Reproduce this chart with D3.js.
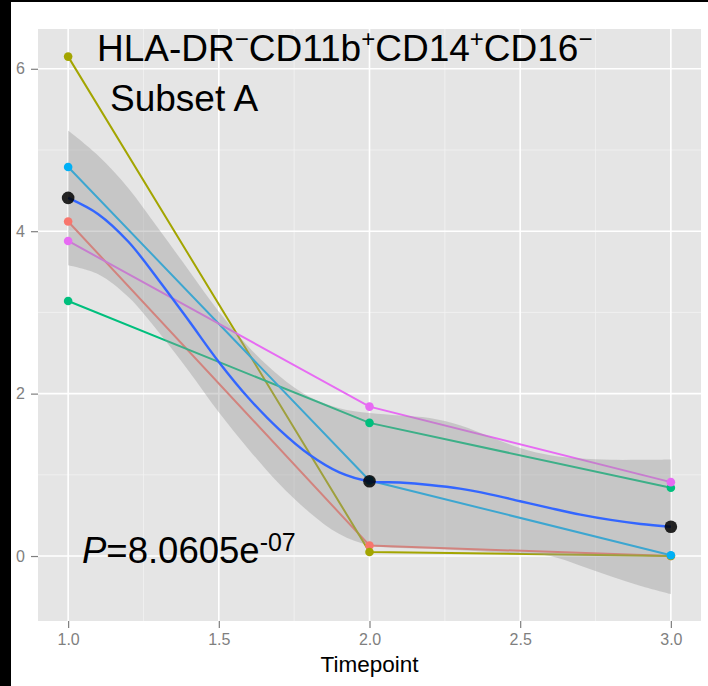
<!DOCTYPE html>
<html>
<head>
<meta charset="utf-8">
<script src="https://cdn.jsdelivr.net/npm/d3@7"></script>
<style>
  body { margin: 0; background: #fff; }
  svg { display: block; }
</style>
</head>
<body>
<div id="chart"></div>
<script>
// timepoints and per-subject values
const timepoints = [1, 2, 3];
const subjectRed = [4.12, 0.13, 0.00];
const subjectOlive = [6.15, 0.05, 0.00];
const subjectGreen = [3.14, 1.64, 0.84];
const subjectCyan = [4.79, 0.93, 0.01];
const subjectMagenta = [3.88, 1.84, 0.91];
const meanValues = [4.41, 0.92, 0.36];

// smoother (fit + confidence band)
const smoothT = [1.0, 1.1, 1.2, 1.3, 1.4, 1.5, 1.6, 1.7, 1.8, 1.9, 2.0, 2.1, 2.2, 2.3, 2.4, 2.5, 2.6, 2.7, 2.8, 2.9, 3.0];
const smoothFit = [4.41, 4.21, 3.87, 3.40, 2.90, 2.39, 1.94, 1.56, 1.25, 1.03, 0.92, 0.905, 0.875, 0.83, 0.76, 0.675, 0.59, 0.51, 0.445, 0.395, 0.36];
const smoothUpper = [5.24, 4.93, 4.53, 4.03, 3.52, 3.01, 2.57, 2.22, 1.96, 1.82, 1.76, 1.73, 1.70, 1.61, 1.47, 1.33, 1.24, 1.20, 1.185, 1.185, 1.19];
const smoothLower = [3.58, 3.47, 3.19, 2.76, 2.28, 1.77, 1.31, 0.89, 0.54, 0.27, 0.13, 0.10, 0.09, 0.07, 0.05, 0.03, 0.00, -0.12, -0.25, -0.37, -0.47];

const xTicks = [1.0, 1.5, 2.0, 2.5, 3.0];
const xMinor = [1.25, 1.75, 2.25, 2.75];
const yTicks = [0, 2, 4, 6];
const yMinor = [1, 3, 5];

const seriesList = [
  { values: subjectRed, color: "#F8766D" },
  { values: subjectOlive, color: "#A3A500" },
  { values: subjectGreen, color: "#00BF7D" },
  { values: subjectCyan, color: "#00B0F6" },
  { values: subjectMagenta, color: "#E76BF3" }
];

const attrs = {
  svgWidth: 708,
  svgHeight: 686,
  panelLeft: 38,
  panelRight: 701,
  panelTop: 29,
  panelBottom: 621,
  font: "'Liberation Sans', Arial, Helvetica, sans-serif",
  panelFill: "#E5E5E5",
  tickColor: "#7F7F7F"
};

const svg = d3.select("#chart").append("svg")
  .attr("width", attrs.svgWidth)
  .attr("height", attrs.svgHeight)
  .attr("font-family", attrs.font);

// frame strips
svg.append("rect").attr("x", 0).attr("y", 0).attr("width", attrs.svgWidth).attr("height", attrs.svgHeight).attr("fill", "#fff");
svg.append("rect").attr("x", 0).attr("y", 0).attr("width", 11).attr("height", attrs.svgHeight).attr("fill", "#000");
svg.append("rect").attr("x", 0).attr("y", 0).attr("width", attrs.svgWidth).attr("height", 2).attr("fill", "#000");

const x = d3.scaleLinear().domain([0.9, 3.1]).range([attrs.panelLeft, attrs.panelRight]);
const y = d3.scaleLinear().domain([-0.8, 6.49]).range([attrs.panelBottom, attrs.panelTop]);

// panel + grid
svg.append("rect")
  .attr("x", attrs.panelLeft).attr("y", attrs.panelTop)
  .attr("width", attrs.panelRight - attrs.panelLeft)
  .attr("height", attrs.panelBottom - attrs.panelTop)
  .attr("fill", attrs.panelFill);

const grid = svg.append("g");
grid.selectAll(".minor-x").data(xMinor).enter().append("line")
  .attr("x1", d => x(d)).attr("x2", d => x(d))
  .attr("y1", attrs.panelTop).attr("y2", attrs.panelBottom)
  .attr("stroke", "#F2F2F2").attr("stroke-width", 0.8);
grid.selectAll(".minor-y").data(yMinor).enter().append("line")
  .attr("y1", d => y(d)).attr("y2", d => y(d))
  .attr("x1", attrs.panelLeft).attr("x2", attrs.panelRight)
  .attr("stroke", "#F2F2F2").attr("stroke-width", 0.8);
grid.selectAll(".major-x").data(xTicks).enter().append("line")
  .attr("x1", d => x(d)).attr("x2", d => x(d))
  .attr("y1", attrs.panelTop).attr("y2", attrs.panelBottom)
  .attr("stroke", "#fff").attr("stroke-width", 1.6);
grid.selectAll(".major-y").data(yTicks).enter().append("line")
  .attr("y1", d => y(d)).attr("y2", d => y(d))
  .attr("x1", attrs.panelLeft).attr("x2", attrs.panelRight)
  .attr("stroke", "#fff").attr("stroke-width", 1.6);

// axes
const xAxis = svg.append("g")
  .attr("transform", `translate(0,${attrs.panelBottom})`)
  .call(d3.axisBottom(x).tickValues(xTicks).tickFormat(d3.format(".1f")).tickSizeInner(7).tickSizeOuter(0).tickPadding(6));
const yAxis = svg.append("g")
  .attr("transform", `translate(${attrs.panelLeft},0)`)
  .call(d3.axisLeft(y).tickValues(yTicks).tickFormat(d3.format("d")).tickSizeInner(7).tickSizeOuter(0).tickPadding(6));
[xAxis, yAxis].forEach(a => {
  a.select(".domain").remove();
  a.selectAll("line").attr("stroke", attrs.tickColor).attr("stroke-width", 1.2);
  a.selectAll("text").attr("fill", attrs.tickColor).attr("font-size", 16).attr("font-family", attrs.font);
});

svg.append("text")
  .attr("x", (attrs.panelLeft + attrs.panelRight) / 2)
  .attr("y", 672)
  .attr("text-anchor", "middle")
  .attr("font-size", 22.5)
  .attr("fill", "#000")
  .text("Timepoint");

const plot = svg.append("g");

// subject lines
const line = d3.line().x((d, i) => x(timepoints[i])).y(d => y(d));
plot.selectAll(".subject-line").data(seriesList).enter().append("path")
  .attr("d", d => line(d.values))
  .attr("fill", "none")
  .attr("stroke", d => d.color)
  .attr("stroke-width", 2);

// confidence band
const band = d3.area()
  .x((d, i) => x(smoothT[i]))
  .y0((d, i) => y(smoothLower[i]))
  .y1((d, i) => y(smoothUpper[i]))
  .curve(d3.curveCatmullRom.alpha(0.5));
plot.append("path")
  .attr("d", band(smoothT))
  .attr("fill", "#999999")
  .attr("fill-opacity", 0.4);

// subject points
seriesList.forEach(s => {
  plot.selectAll(null).data(s.values).enter().append("circle")
    .attr("cx", (d, i) => x(timepoints[i]))
    .attr("cy", d => y(d))
    .attr("r", 4.3)
    .attr("fill", s.color);
});

// smooth line
const fitLine = d3.line()
  .x((d, i) => x(smoothT[i]))
  .y(d => y(d))
  .curve(d3.curveCatmullRom.alpha(0.5));
plot.append("path")
  .attr("d", fitLine(smoothFit))
  .attr("fill", "none")
  .attr("stroke", "#3366FF")
  .attr("stroke-width", 2.4);

// mean points
plot.selectAll(".mean-pt").data(meanValues).enter().append("circle")
  .attr("cx", (d, i) => x(timepoints[i]))
  .attr("cy", d => y(d))
  .attr("r", 6.3)
  .attr("fill", "#000")
  .attr("fill-opacity", 0.85);

// annotations
const title = svg.append("text")
  .attr("x", 97).attr("y", 61)
  .attr("font-size", 37)
  .attr("fill", "#000");
const titleParts = [
  { t: "HLA-DR", sup: false }, { t: "\u2212", sup: true },
  { t: "CD11b", sup: false }, { t: "+", sup: true },
  { t: "CD14", sup: false }, { t: "+", sup: true },
  { t: "CD16", sup: false }, { t: "\u2212", sup: true }
];
let prevSup = false;
titleParts.forEach(p => {
  const ts = title.append("tspan").text(p.t);
  if (p.sup) {
    ts.attr("font-size", 24).attr("dy", -14);
  } else if (prevSup) {
    ts.attr("dy", 14);
  }
  prevSup = p.sup;
});

svg.append("text")
  .attr("x", 110).attr("y", 111)
  .attr("font-size", 37)
  .attr("fill", "#000")
  .text("Subset A");

const pText = svg.append("text")
  .attr("x", 82).attr("y", 563)
  .attr("font-size", 36.5)
  .attr("fill", "#000");
pText.append("tspan").attr("font-style", "italic").text("P");
pText.append("tspan").text("=8.0605e");
pText.append("tspan").attr("font-size", 25).attr("dy", -12).text("-07");
</script>
</body>
</html>
